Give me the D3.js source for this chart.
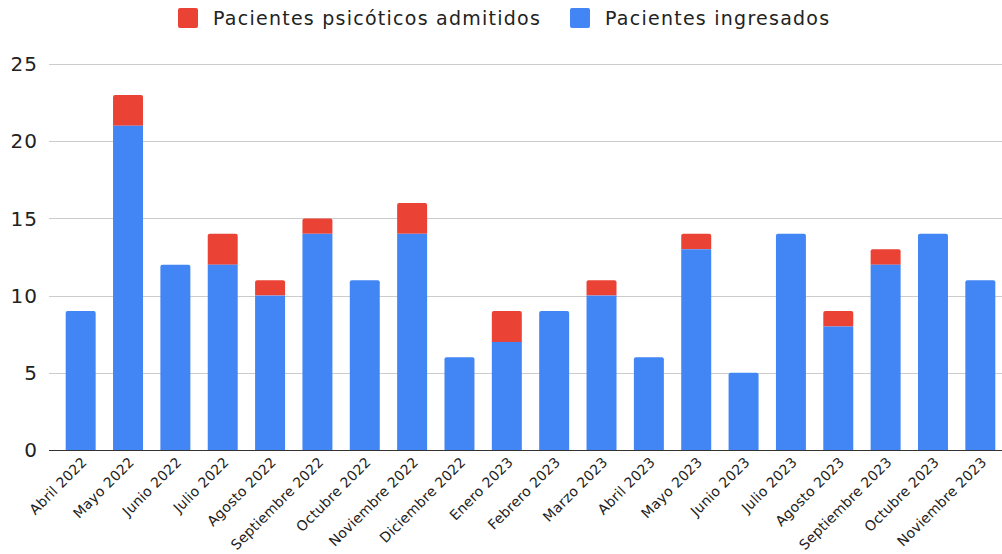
<!DOCTYPE html>
<html><head><meta charset="utf-8">
<script src="https://cdn.jsdelivr.net/npm/d3@7"></script>
<style>html,body{margin:0;padding:0;background:#fff;}svg{display:block;}</style>
</head><body>
<svg id="chart" width="1002" height="554"></svg>
<script>
const categories = ["Abril 2022","Mayo 2022","Junio 2022","Julio 2022","Agosto 2022","Septiembre 2022","Octubre 2022","Noviembre 2022","Diciembre 2022","Enero 2023","Febrero 2023","Marzo 2023","Abril 2023","Mayo 2023","Junio 2023","Julio 2023","Agosto 2023","Septiembre 2023","Octubre 2023","Noviembre 2023"];
const ingresados = [9,21,12,12,10,14,11,14,6,7,9,10,6,13,5,14,8,12,14,11];
const psicoticos = [0,2,0,2,1,1,0,2,0,2,0,1,0,1,0,0,1,1,0,0];
const yTicks = [0,5,10,15,20,25];
const seriesNames = ["Pacientes psicóticos admitidos","Pacientes ingresados"];
const seriesColors = ["#EA4335","#4285F4"];

const svg = d3.select("#chart");
const font = "DejaVu Sans, Verdana, sans-serif";
const y = d3.scaleLinear().domain([0,25]).range([450,64]);
const x = d3.scaleBand().domain(categories).range([57,1004]).paddingInner(0.367).paddingOuter(0.1835);

// gridlines
svg.append("g").selectAll("line").data(yTicks.filter(d=>d>0)).join("line")
  .attr("x1",49).attr("x2",1002)
  .attr("y1",d=>Math.round(y(d))+0.5).attr("y2",d=>Math.round(y(d))+0.5)
  .attr("stroke","#cccccc").attr("stroke-width",1);

// y labels
svg.append("g").selectAll("text").data(yTicks).join("text")
  .attr("x",38).attr("y",d=>y(d)).attr("dy","0.36em")
  .attr("text-anchor","end").attr("font-family",font).attr("font-size",20).attr("letter-spacing",1).attr("fill","#222")
  .text(d=>d);

const data = categories.map((c,i)=>({cat:c, ing:ingresados[i], psi:psicoticos[i]}));

function topRounded(x0,y0,w,h,r){
  r=Math.min(r,h);
  return `M${x0},${y0+h}V${y0+r}Q${x0},${y0} ${x0+r},${y0}H${x0+w-r}Q${x0+w},${y0} ${x0+w},${y0+r}V${y0+h}Z`;
}

const bars = svg.append("g");
data.forEach(d=>{
  const bx = x(d.cat), bw = x.bandwidth();
  const yI = y(d.ing), yT = y(d.ing+d.psi);
  if(d.psi>0){
    bars.append("path").attr("d",topRounded(bx,yT,bw,yI-yT,2)).attr("fill",seriesColors[0]);
    bars.append("rect").attr("x",bx).attr("y",yI).attr("width",bw).attr("height",y(0)-yI).attr("fill",seriesColors[1]);
  } else {
    bars.append("path").attr("d",topRounded(bx,yI,bw,y(0)-yI,2)).attr("fill",seriesColors[1]);
  }
});

// baseline
svg.append("line").attr("x1",49).attr("x2",1002).attr("y1",450.5).attr("y2",450.5)
  .attr("stroke","#333").attr("stroke-width",1);

// x labels
svg.append("g").selectAll("text").data(categories).join("text")
  .attr("transform",d=>`translate(${x(d)+x.bandwidth()/2+7},${463}) rotate(-45)`)
  .attr("text-anchor","end").attr("font-family",font).attr("font-size",14).attr("letter-spacing",0.2).attr("fill","#222")
  .text(d=>d);

// legend
const legend = svg.append("g");
const lx = [178,570];
seriesNames.forEach((n,i)=>{
  legend.append("rect").attr("x",lx[i]).attr("y",8).attr("width",20).attr("height",20).attr("rx",2).attr("fill",seriesColors[i]);
  legend.append("text").attr("x",lx[i]+35).attr("y",25).attr("font-family",font).attr("font-size",19).attr("letter-spacing",1.25).attr("fill","#222").text(n);
});
</script>
</body></html>
